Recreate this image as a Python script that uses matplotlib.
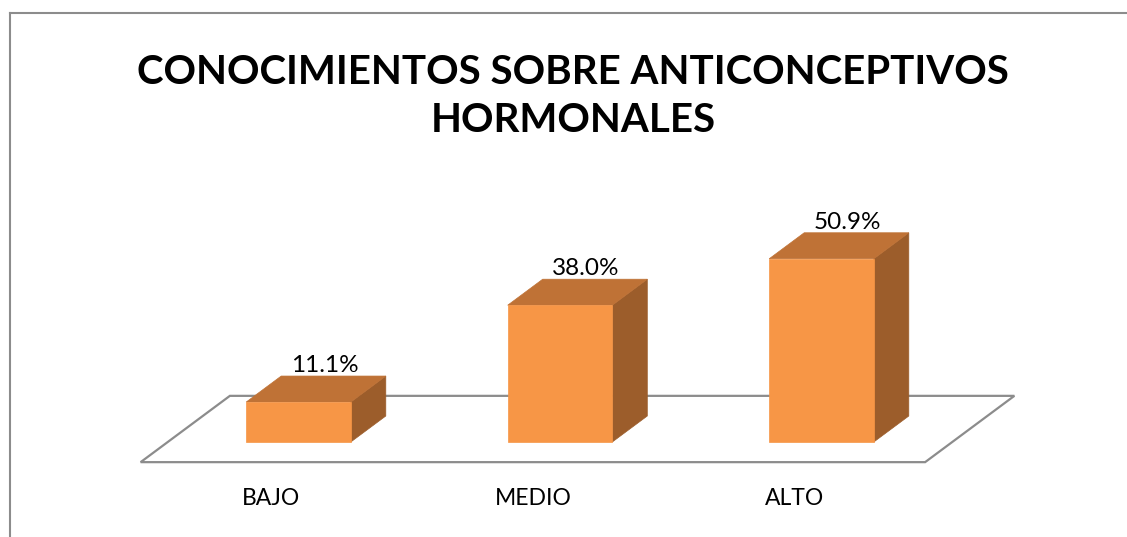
import matplotlib
matplotlib.use("Agg")
import matplotlib.pyplot as plt
from matplotlib.patches import Polygon
from matplotlib.lines import Line2D

# ---------------- data ----------------
categories = ["BAJO", "MEDIO", "ALTO"]
values = [11.1, 38.0, 50.9]
value_labels = ["11.1%", "38.0%", "50.9%"]
title_lines = ["CONOCIMIENTOS SOBRE ANTICONCEPTIVOS", "HORMONALES"]

# ---------------- style ----------------
W, H, DPI = 1127, 537, 100
FONT = ["Lato", "DejaVu Sans"]
C_FRONT = "#F79646"
C_TOP = "#BF7236"
C_SIDE = "#9C5D2B"
C_GRID = "#8C8C8C"

fig = plt.figure(figsize=(W / DPI, H / DPI), dpi=DPI)
ax = fig.add_axes([0, 0, 1, 1])
ax.set_axis_off()

px_per_cat = 261.5
px_per_pct = 3.6
x0_px = 298.5     # pixel column of category 0 (front face centre)
y0_px = 442       # pixel row (from top) of the value 0 on the front plane
ax.set_xlim(-x0_px / px_per_cat, (W - x0_px) / px_per_cat)
ax.set_ylim(-(H - y0_px) / px_per_pct, y0_px / px_per_pct)

# oblique depth vector (per unit bar depth), in data units
kx = 35 / px_per_cat
ky = 26 / px_per_pct


def proj(x, y, z):
    return (x + z * kx, y + z * ky)


# floor
fz0, fz1 = -0.775, 1.775
n = len(categories)
floor = [proj(-0.5, 0, fz0), proj(n - 0.5, 0, fz0),
         proj(n - 0.5, 0, fz1), proj(-0.5, 0, fz1)]
ax.add_patch(Polygon(floor, closed=True, facecolor="white",
                     edgecolor=C_GRID, lw=1.6, zorder=1))

# bars
hw = 0.2
for i, v in enumerate(values):
    x = i
    front = [proj(x - hw, 0, 0), proj(x + hw, 0, 0),
             proj(x + hw, v, 0), proj(x - hw, v, 0)]
    top = [proj(x - hw, v, 0), proj(x + hw, v, 0),
           proj(x + hw, v, 1), proj(x - hw, v, 1)]
    side = [proj(x + hw, 0, 0), proj(x + hw, 0, 1),
            proj(x + hw, v, 1), proj(x + hw, v, 0)]
    for poly, col in ((side, C_SIDE), (top, C_TOP), (front, C_FRONT)):
        ax.add_patch(Polygon(poly, closed=True, facecolor=col,
                             edgecolor=col, lw=0.5, zorder=3))
    lx, ly = proj(x, v, 1)
    ax.text(x + 0.1, ly + 4 / px_per_pct, value_labels[i],
            ha="center", va="baseline", fontsize=17.5,
            family=FONT, color="black", zorder=5)
    cx, _ = proj(x, 0, fz0)
    ax.text(cx, -(505 - y0_px) / px_per_pct, categories[i],
            ha="center", va="baseline", fontsize=16.5,
            family=FONT, color="black", zorder=5)

# title
fig.text(0.5085, 1 - 84 / H, title_lines[0], ha="center", va="baseline",
         fontsize=29, fontweight="bold", family=FONT, color="black")
fig.text(0.5085, 1 - 132 / H, title_lines[1], ha="center", va="baseline",
         fontsize=29, fontweight="bold", family=FONT, color="black")

# chart-area border (left and top visible)
fig.add_artist(Line2D([9.5 / W, 9.5 / W], [0, 1 - 13 / H],
                      transform=fig.transFigure, color=C_GRID, lw=1.5))
fig.add_artist(Line2D([9.5 / W, 1], [1 - 13 / H, 1 - 13 / H],
                      transform=fig.transFigure, color=C_GRID, lw=1.5))

fig.savefig("out.png", dpi=DPI)
